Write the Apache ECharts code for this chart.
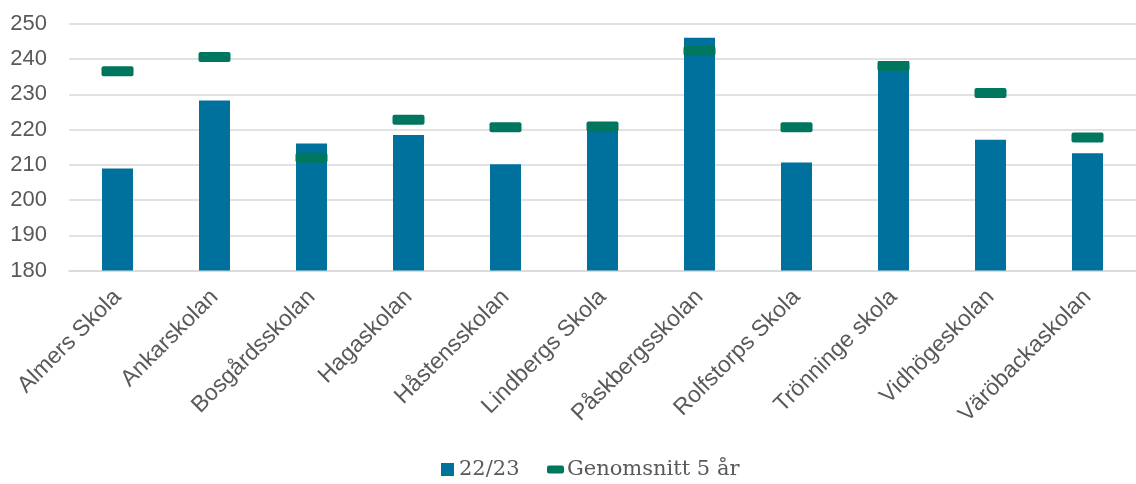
<!DOCTYPE html>
<html><head><meta charset="utf-8">
<script src="https://cdn.jsdelivr.net/npm/echarts@6/dist/echarts.min.js"></script>
<style>html,body{margin:0;padding:0;background:#fff}#c{width:1136px;height:484px}</style>
</head><body><div id="c"></div>
<script>
const categories = ['Almers Skola','Ankarskolan','Bosgårdsskolan','Hagaskolan','Håstensskolan','Lindbergs Skola','Påskbergsskolan','Rolfstorps Skola','Trönninge skola','Vidhögeskolan','Väröbackaskolan'];
const values2223 = [209.0, 228.3, 216.1, 218.5, 210.2, 222.0, 246.1, 210.7, 239.5, 217.1, 213.3];
const avg5yr = [236.6, 240.6, 212.0, 222.8, 220.7, 220.9, 242.3, 220.7, 238.1, 230.4, 217.8];
const yTicks = {min: 180, max: 250, interval: 10};

const markerPath = 'path://M2,0 H30 A2,2 0 0 1 32,2 V8 A2,2 0 0 1 30,10 H2 A2,2 0 0 1 0,8 V2 A2,2 0 0 1 2,0 Z';
const chart = echarts.init(document.getElementById('c'), null, {renderer: 'canvas'});
chart.setOption({
  animation: false,
  grid: {left: 69, top: 24, width: 1081, height: 246.5, containLabel: false},
  legend: [
    {data: [{name: '22/23', icon: 'rect'}], left: 441, top: 459, itemWidth: 13, itemHeight: 13, padding: 0,
     textStyle: {fontFamily: 'DejaVu Serif', fontSize: 21, color: '#595959', padding: [0, 0, 0, 0]}},
    {data: [{name: 'Genomsnitt 5 år', icon: 'roundRect'}], left: 547, top: 459, itemWidth: 17, itemHeight: 8, padding: 0,
     textStyle: {fontFamily: 'DejaVu Serif', fontSize: 21, color: '#595959', padding: [0, 0, 0, -2]}}
  ],
  xAxis: {
    type: 'category', data: categories,
    axisLine: {lineStyle: {color: '#d9d9d9', width: 1.5}},
    axisTick: {show: false},
    axisLabel: {rotate: 45, margin: 23, fontFamily: 'Liberation Sans', fontSize: 23, color: '#595959', interval: 0}
  },
  yAxis: {
    type: 'value', min: yTicks.min, max: yTicks.max, interval: yTicks.interval,
    axisLine: {show: false}, axisTick: {show: false},
    splitLine: {lineStyle: {color: '#d9d9d9', width: 1.5}},
    axisLabel: {margin: 22, fontFamily: 'Liberation Sans', fontSize: 22, color: '#595959'}
  },
  series: [
    {name: '22/23', type: 'bar', data: values2223, barWidth: 31, itemStyle: {color: '#00709c'}},
    {name: 'Genomsnitt 5 år', type: 'line', data: avg5yr, symbol: markerPath, symbolSize: [32, 10],
     lineStyle: {opacity: 0, width: 0}, itemStyle: {color: '#00765f', borderWidth: 0}, z: 5}
  ]
});
</script></body></html>
